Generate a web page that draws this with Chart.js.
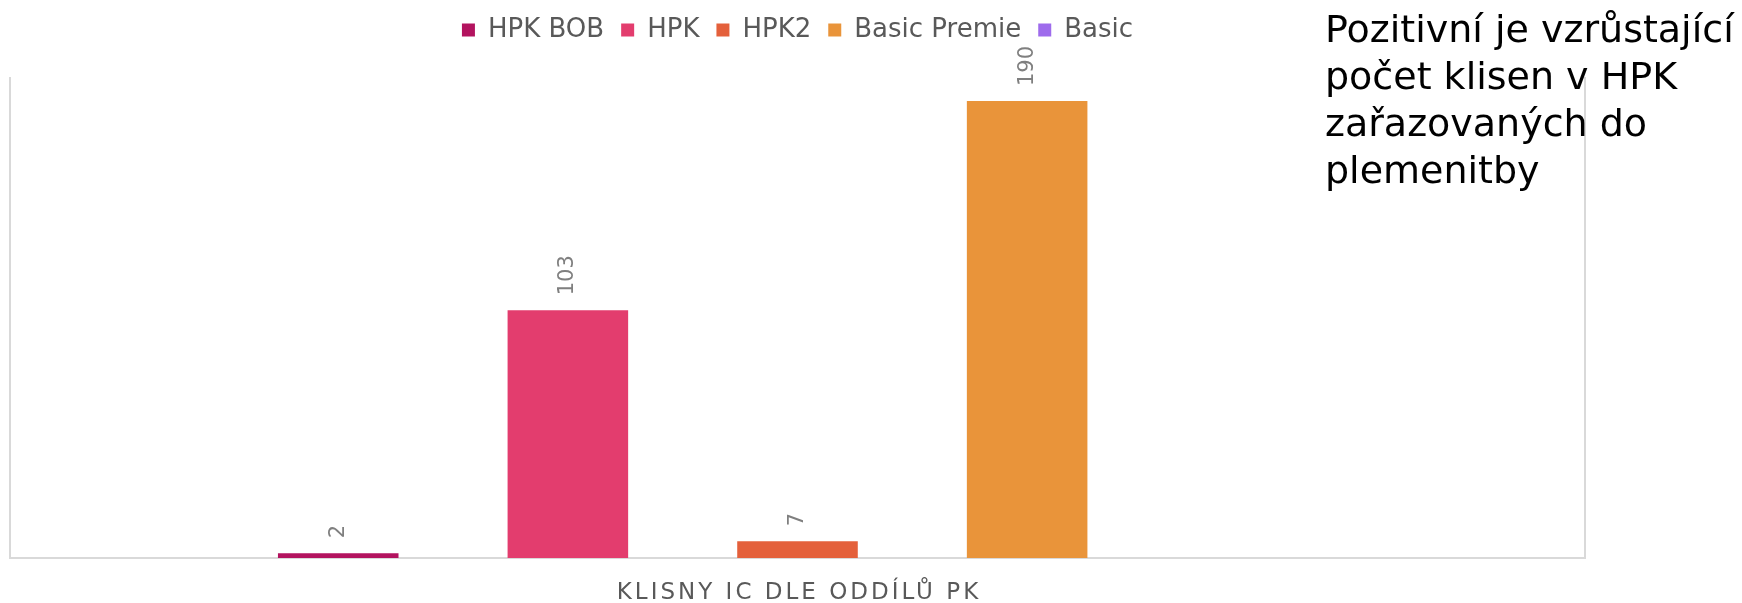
<!DOCTYPE html>
<html lang="cs">
<head>
    <meta charset="UTF-8">
    <title>Klisny IC dle oddílů PK</title>
    <script src="https://cdn.jsdelivr.net/npm/chart.js"></script>
    <style>
        body {
            margin: 0;
            background: #ffffff;
        }

        .wrap {
            position: relative;
            width: 1742px;
            height: 603px;
        }

        .note {
            position: absolute;
            left: 1325px;
            top: 6px;
            font-family: 'DejaVu Sans', sans-serif;
            font-size: 38px;
            line-height: 47px;
            color: #000000;
            white-space: nowrap;
        }
    </style>
</head>
<body>
    <div class="wrap">
        <canvas id="mareChart" width="1742" height="603"></canvas>
        <div class="note">Pozitivní je vzrůstající<br>počet klisen v HPK<br>zařazovaných do<br>plemenitby</div>
    </div>

    <script>
        // data
        const categories = ['KLISNY IC DLE ODDÍLŮ PK'];
        const seriesNames = ['HPK BOB', 'HPK', 'HPK2', 'Basic Premie', 'Basic'];
        const hpkBob = [2];
        const hpk = [103];
        const hpk2 = [7];
        const basicPremie = [190];
        const basic = [null];
        const seriesColors = ['#b3135f', '#e33d6e', '#e4603b', '#e9943a', '#9e6bec'];

        const allSeries = [hpkBob, hpk, hpk2, basicPremie, basic];

        // push the plot down a bit below the legend
        const legendGap = {
            id: 'legendGap',
            beforeInit(chart) {
                const fit = chart.legend.fit;
                chart.legend.fit = function () {
                    fit.call(this);
                    this.height += 24;
                };
            }
        };

        // light grey frame: left, bottom and right sides of the plot
        const plotFrame = {
            id: 'plotFrame',
            beforeDatasetsDraw(chart) {
                const { ctx, chartArea: a } = chart;
                ctx.save();
                ctx.strokeStyle = '#d9d9d9';
                ctx.lineWidth = 2;
                ctx.beginPath();
                ctx.moveTo(a.left, a.top);
                ctx.lineTo(a.left, a.bottom);
                ctx.lineTo(a.right, a.bottom);
                ctx.lineTo(a.right, a.top);
                ctx.stroke();
                ctx.restore();
            }
        };

        // vertical value labels above each bar
        const barLabels = {
            id: 'barLabels',
            afterDatasetsDraw(chart) {
                const ctx = chart.ctx;
                ctx.save();
                ctx.fillStyle = '#7f7f7f';
                ctx.font = '21px "DejaVu Sans", sans-serif';
                ctx.textAlign = 'left';
                ctx.textBaseline = 'middle';
                chart.data.datasets.forEach((ds, i) => {
                    chart.getDatasetMeta(i).data.forEach((bar, j) => {
                        const v = ds.data[j];
                        if (v === null || v === undefined) return;
                        ctx.save();
                        ctx.translate(bar.x, bar.y - 15);
                        ctx.rotate(-Math.PI / 2);
                        ctx.fillText(String(v), 0, 0);
                        ctx.restore();
                    });
                });
                ctx.restore();
            }
        };

        // category label under the plot, spaced out like the original
        const categoryLabel = {
            id: 'categoryLabel',
            afterDraw(chart) {
                const ctx = chart.ctx;
                const x = chart.scales.x;
                ctx.save();
                ctx.fillStyle = '#595959';
                ctx.font = '23px "DejaVu Sans", sans-serif';
                ctx.letterSpacing = '3px';
                ctx.textAlign = 'center';
                ctx.textBaseline = 'middle';
                categories.forEach((c, i) => {
                    ctx.fillText(c, x.getPixelForValue(i) + 1.5, chart.chartArea.bottom + 35);
                });
                ctx.restore();
            }
        };

        const ctx = document.getElementById('mareChart').getContext('2d');
        new Chart(ctx, {
            type: 'bar',
            data: {
                labels: categories,
                datasets: seriesNames.map((name, i) => ({
                    label: name,
                    data: allSeries[i],
                    backgroundColor: seriesColors[i],
                    borderWidth: 0,
                    categoryPercentage: 0.729,
                    barPercentage: 0.525
                }))
            },
            options: {
                responsive: false,
                animation: false,
                layout: {
                    padding: { top: 0, left: 10, right: 157, bottom: 45 }
                },
                plugins: {
                    legend: {
                        position: 'top',
                        fullSize: false,
                        labels: {
                            color: '#595959',
                            font: { family: 'DejaVu Sans', size: 26 },
                            boxWidth: 13,
                            boxHeight: 13,
                            padding: 17
                        }
                    },
                    tooltip: { enabled: false }
                },
                scales: {
                    x: { display: false },
                    y: { display: false, min: 0, max: 200 }
                }
            },
            plugins: [legendGap, plotFrame, barLabels, categoryLabel]
        });
    </script>
</body>
</html>
